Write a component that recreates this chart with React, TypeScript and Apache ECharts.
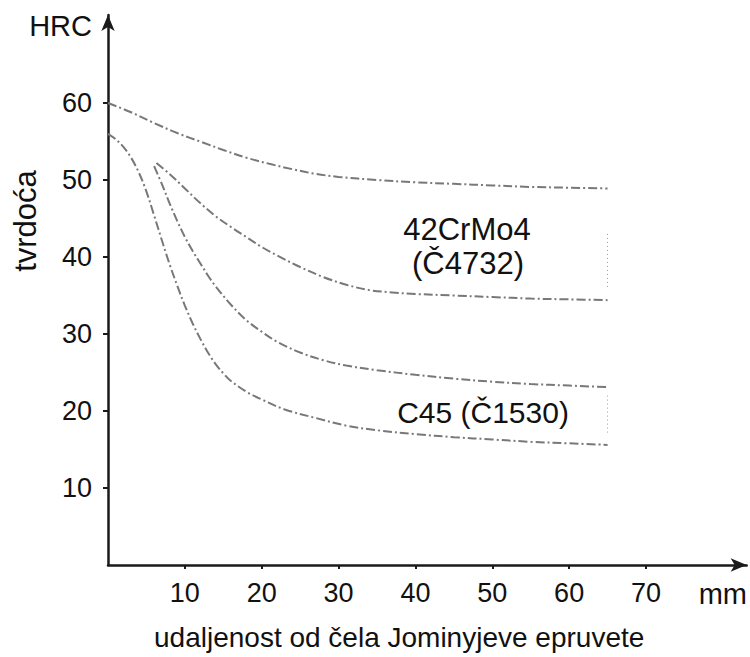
import { useEffect, useRef } from 'react';
import * as echarts from 'echarts';

// Tick values and unit labels
const xTickValues = [10, 20, 30, 40, 50, 60, 70];
const xUnitValue = 80;
const xUnitLabel = 'mm';
const yTickValues = [10, 20, 30, 40, 50, 60];
const yUnitValue = 70;
const yUnitLabel = 'HRC';
const xAxisName = 'udaljenost od čela Jominyjeve epruvete';
const yAxisName = 'tvrdoća';

// 42CrMo4 (Č4732) band
const crMoUpper: [number, number][] = [
  [0, 60], [3, 58.8], [6, 57.4], [9, 56.1], [12, 55], [15, 53.9], [18, 52.9], [21, 52.1],
  [24, 51.4], [27, 50.8], [30, 50.4], [35, 50], [40, 49.7], [45, 49.5], [50, 49.3],
  [55, 49.1], [60, 49], [65, 48.9],
];
const crMoLower: [number, number][] = [
  [6.3, 52.2], [8, 50.8], [10, 48.9], [12, 47], [14, 45.3], [16, 43.9], [18, 42.6],
  [20, 41.3], [22, 40.2], [25, 38.7], [28, 37.4], [31, 36.4], [34, 35.7], [37, 35.4],
  [40, 35.2], [45, 35], [50, 34.8], [55, 34.6], [60, 34.5], [65, 34.4],
];
const crMoEnd: [number, number][] = [[65, 43], [65, 36]];

// C45 (Č1530) band
const c45Upper: [number, number][] = [
  [6, 51.8], [7, 49.5], [8, 47], [9, 44.7], [10, 42.6], [11, 40.8], [12, 39.2], [13, 37.6],
  [14, 36.2], [16, 33.8], [18, 31.8], [20, 30.3], [22, 29], [25, 27.6], [28, 26.6],
  [31, 25.9], [35, 25.3], [40, 24.7], [45, 24.2], [50, 23.8], [55, 23.5], [60, 23.3], [65, 23.1],
];
const c45Lower: [number, number][] = [
  [0, 56], [1, 55.3], [2, 54.3], [3, 52.9], [4, 51], [5, 48.5], [6, 45.4], [7, 42.2],
  [8, 39.1], [9, 36.3], [10, 33.7], [11, 31.4], [12, 29.4], [13, 27.6], [14, 26.1],
  [15, 24.9], [16, 23.9], [18, 22.5], [20, 21.5], [23, 20.2], [27, 19.1], [31, 18.1],
  [35, 17.5], [40, 17], [45, 16.6], [50, 16.3], [55, 16], [60, 15.8], [65, 15.6],
];
const c45End: [number, number][] = [[65, 22], [65, 17]];

const crMoName = '42CrMo4';
const crMoCode = '(Č4732)';
const c45Label = 'C45 (Č1530)';

const FONT = '"Liberation Sans", Arial, sans-serif';
const TEXT = '#111111';
const CURVE = '#787878';

export default function App() {
  const ref = useRef<HTMLDivElement>(null);
  useEffect(() => {
    if (!ref.current) return;
    const chart = echarts.init(ref.current, undefined, { renderer: 'svg' });
    const curve = (name: string, data: [number, number][]) => ({
      name,
      type: 'line',
      data,
      smooth: 0.35,
      symbol: 'none',
      lineStyle: { color: CURVE, width: 2, type: [9, 3, 2, 3] },
      z: 3,
    });
    const endLine = (name: string, data: [number, number][]) => ({
      name,
      type: 'line',
      data,
      symbol: 'none',
      lineStyle: { color: '#9a9a9a', width: 1, type: [1, 3] },
      z: 2,
    });
    const unitRich = { u: { fontFamily: FONT, fontSize: 29, color: TEXT } };
    chart.setOption({
      animation: false,
      backgroundColor: '#ffffff',
      grid: { left: 108, right: 2, top: 15, bottom: 92, containLabel: false },
      xAxis: {
        type: 'value',
        min: 0,
        max: 83.1,
        interval: 10,
        splitLine: { show: false },
        axisLine: {
          show: true,
          lineStyle: { color: '#1a1a1a', width: 2.5 },
          symbol: ['none', 'arrow'],
          symbolSize: [10, 16],
        },
        axisTick: {
          show: true,
          length: 4,
          customValues: xTickValues,
          lineStyle: { color: '#1a1a1a', width: 2 },
        },
        axisLabel: {
          customValues: [...xTickValues, xUnitValue],
          formatter: (v: number) => (v === xUnitValue ? `{u|${xUnitLabel}}` : String(v)),
          fontFamily: FONT,
          fontSize: 27,
          color: TEXT,
          margin: 14,
          rich: unitRich,
        },
      },
      yAxis: {
        type: 'value',
        min: 0,
        max: 71.43,
        interval: 10,
        splitLine: { show: false },
        axisLine: {
          show: true,
          lineStyle: { color: '#1a1a1a', width: 2.5 },
          symbol: ['none', 'arrow'],
          symbolSize: [10, 16],
        },
        axisTick: {
          show: true,
          length: 5,
          customValues: yTickValues,
          lineStyle: { color: '#1a1a1a', width: 2 },
        },
        axisLabel: {
          customValues: [...yTickValues, yUnitValue],
          formatter: (v: number) => (v === yUnitValue ? `{u|${yUnitLabel}}` : String(v)),
          fontFamily: FONT,
          fontSize: 27,
          color: TEXT,
          margin: 16,
          rich: unitRich,
        },
      },
      series: [
        curve('42CrMo4 gornja', crMoUpper),
        curve('42CrMo4 donja', crMoLower),
        curve('C45 gornja', c45Upper),
        curve('C45 donja', c45Lower),
        endLine('42CrMo4 kraj', crMoEnd),
        endLine('C45 kraj', c45End),
      ],
      graphic: [
        {
          type: 'text',
          x: 154,
          y: 637,
          style: { text: xAxisName, fontFamily: FONT, fontSize: 28, fill: TEXT, align: 'left', verticalAlign: 'middle' },
        },
        {
          type: 'text',
          x: 25,
          y: 221,
          rotation: Math.PI / 2,
          style: { text: yAxisName, fontFamily: FONT, fontSize: 31, fill: TEXT, align: 'center', verticalAlign: 'middle' },
        },
        {
          type: 'text',
          x: 467,
          y: 229,
          style: { text: crMoName, fontFamily: FONT, fontSize: 31, fill: TEXT, align: 'center', verticalAlign: 'middle' },
        },
        {
          type: 'text',
          x: 468,
          y: 263,
          style: { text: crMoCode, fontFamily: FONT, fontSize: 31, fill: TEXT, align: 'center', verticalAlign: 'middle' },
        },
        {
          type: 'text',
          x: 483,
          y: 412,
          style: { text: c45Label, fontFamily: FONT, fontSize: 30, fill: TEXT, align: 'center', verticalAlign: 'middle' },
        },
      ],
    });
    return () => chart.dispose();
  }, []);
  return <div ref={ref} style={{ position: 'fixed', left: 0, top: 0, width: 750, height: 657 }} />;
}
